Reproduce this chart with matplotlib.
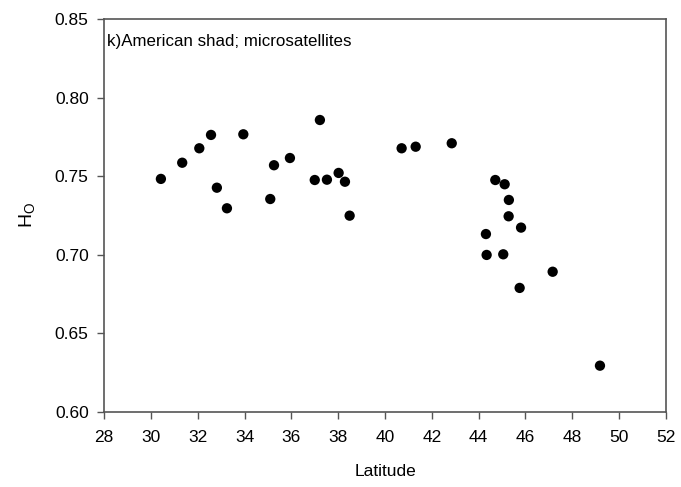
import matplotlib
matplotlib.use("Agg")
import matplotlib.pyplot as plt

plt.rcParams['font.family'] = ['Liberation Sans', 'DejaVu Sans']

latitude = [30.43, 31.34, 32.07, 32.57, 32.82, 33.25, 33.95, 35.10, 35.26, 35.94,
            37.22, 37.00, 37.52, 38.02, 38.29, 38.49, 40.71, 41.31, 42.85, 44.71,
            45.11, 45.29, 45.28, 45.81, 44.31, 44.34, 45.05, 47.16, 45.75, 49.18]
ho = [0.7482, 0.7585, 0.7677, 0.7762, 0.7426, 0.7295, 0.7766, 0.7354, 0.7569, 0.7615,
      0.7857, 0.7475, 0.7477, 0.7520, 0.7464, 0.7248, 0.7677, 0.7687, 0.7709, 0.7475,
      0.7448, 0.7348, 0.7244, 0.7172, 0.7131, 0.6998, 0.7002, 0.6891, 0.6788, 0.6293]

x_ticks = list(range(28, 53, 2))
y_ticks = [0.60, 0.65, 0.70, 0.75, 0.80, 0.85]

fig = plt.figure(figsize=(6.81, 4.87), dpi=100)
ax = fig.add_axes([104/681, 1-411.7/487, (666-104)/681, (411.7-19)/487])
ax.scatter(latitude, ho, s=55, color='black', edgecolors='none', zorder=3)
ax.set_xlim(28, 52)
ax.set_ylim(0.60, 0.85)
ax.set_xticks(x_ticks)
ax.set_yticks(y_ticks)
ax.set_yticklabels([f"{v:.2f}" for v in y_ticks])
for s in ax.spines.values():
    s.set_color('#555555')
    s.set_linewidth(1.2)
ax.tick_params(direction='out', length=5, width=1, color='#555555', labelsize=12.5)
ax.tick_params(axis='x', pad=8)
ax.tick_params(axis='y', pad=6)
ax.set_xlabel('Latitude', fontsize=12.5, labelpad=14)
ax.set_ylabel('H$_\\mathregular{O}$', fontsize=14, labelpad=12)
ax.text(0.006, 0.963, 'k)American shad; microsatellites', transform=ax.transAxes,
        fontsize=12.2, va='top', ha='left')
fig.savefig('out.png', dpi=100)
